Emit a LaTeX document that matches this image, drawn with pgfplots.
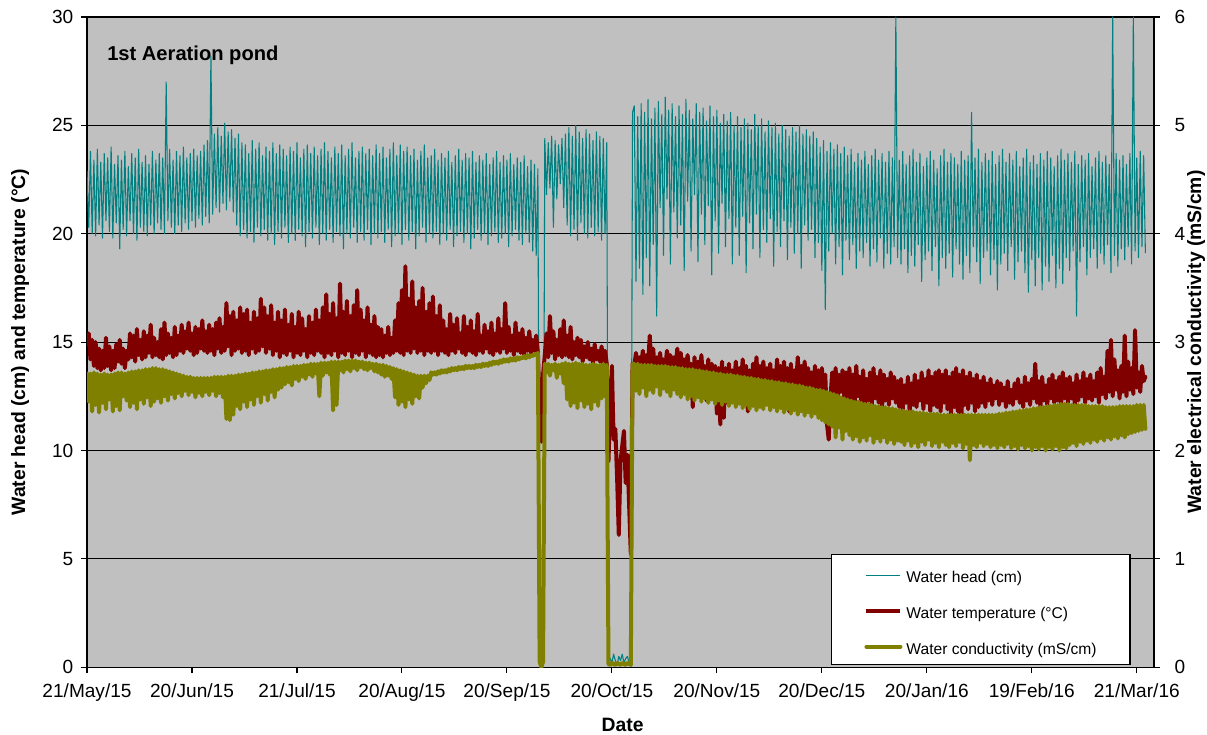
\documentclass[border=0pt]{standalone}
\usepackage{fontspec}
\setmainfont{Liberation Sans}
\usepackage{pgfplots}
\pgfplotsset{compat=1.18}
\usepackage{pgfplotstable}
\definecolor{headc}{HTML}{008080}
\definecolor{tempc}{HTML}{800000}
\definecolor{condc}{HTML}{808000}
\definecolor{bgc}{HTML}{C0C0C0}
\newcommand{\tkf}{\fontsize{14.3}{17}\selectfont}
\newcommand{\lgf}{\fontsize{11.7}{14}\selectfont}
\newcommand{\lbf}{\bfseries\fontsize{14.5}{17}\selectfont}
\newcommand{\ttf}{\bfseries\fontsize{15.1}{18}\selectfont}

\pgfplotstableread{
d h t c
0 22.9 14.9 2.71
0.5 20.3 15.4 2.45
1 23.8 14.2 2.71
1.5 20.0 15.1 2.36
2 23.4 13.9 2.72
2.5 19.9 15.0 2.42
3 23.9 13.8 2.71
3.5 20.4 14.7 2.35
4 23.3 13.7 2.70
4.5 19.8 14.6 2.44
5 23.7 13.8 2.71
5.5 20.6 15.2 2.38
6 23.5 13.9 2.70
6.5 20.1 14.8 2.47
7 24.0 13.7 2.70
7.5 19.8 14.6 2.36
8 23.2 13.8 2.71
8.5 20.5 14.9 2.41
9 23.6 14.1 2.72
9.5 19.3 15.1 2.37
10 23.4 14.0 2.72
10.5 20.2 14.7 2.50
11 23.8 13.8 2.71
11.5 19.9 14.6 2.46
12 23.1 14.2 2.72
12.5 20.6 15.4 2.40
13 23.7 14.3 2.73
13.5 20.0 15.3 2.44
14 23.5 14.1 2.73
14.5 19.7 15.6 2.38
15 23.9 14.4 2.74
15.5 20.3 15.1 2.47
16 23.3 14.2 2.74
16.5 20.1 15.5 2.43
17 23.6 14.3 2.75
17.5 19.9 15.3 2.49
18 23.2 14.5 2.75
18.5 20.4 15.8 2.41
19 23.8 14.3 2.76
19.5 20.0 15.2 2.45
20 23.4 14.4 2.76
20.5 20.5 15.0 2.48
21 23.7 14.3 2.75
21.5 20.2 15.6 2.44
22 23.5 14.2 2.75
22.5 20.0 15.9 2.50
23 27.0 14.4 2.74
23.5 20.6 15.4 2.46
24 23.9 14.5 2.73
24.5 20.3 15.2 2.52
25 23.4 14.3 2.72
25.5 20.0 15.7 2.48
26 23.8 14.4 2.71
26.5 20.4 15.3 2.53
27 23.6 14.6 2.70
27.5 20.1 15.8 2.50
28 24.0 14.5 2.69
28.5 20.5 15.5 2.55
29 23.5 14.7 2.68
29.5 20.2 15.9 2.51
30 23.7 14.6 2.68
30.5 20.6 15.4 2.54
31 23.9 14.4 2.67
31.5 20.3 15.7 2.49
32 23.6 14.5 2.67
32.5 20.7 15.6 2.53
33 23.8 14.7 2.67
33.5 20.4 16.0 2.50
34 24.1 14.6 2.67
34.5 20.8 15.5 2.54
35 24.3 14.5 2.67
35.5 20.5 15.8 2.51
36 28.2 14.6 2.67
36.5 20.9 15.6 2.55
37 24.6 14.4 2.68
37.5 21.2 15.9 2.50
38 24.9 14.7 2.68
38.5 21.0 16.1 2.53
39 24.5 14.5 2.68
39.5 21.4 15.7 2.49
40 25.1 14.6 2.68
40.5 21.1 16.8 2.29
41 24.7 14.8 2.69
41.5 21.5 16.2 2.28
42 24.8 14.4 2.69
42.5 21.0 16.4 2.33
43 24.4 14.6 2.69
43.5 20.4 16.0 2.41
44 24.6 14.7 2.70
44.5 19.9 16.6 2.38
45 24.2 14.5 2.70
45.5 20.2 16.3 2.45
46 24.1 14.6 2.71
46.5 19.8 16.5 2.40
47 23.7 14.4 2.71
47.5 20.1 15.9 2.47
48 24.3 14.7 2.72
48.5 19.6 16.4 2.42
49 23.9 14.5 2.72
49.5 20.3 16.1 2.50
50 24.2 14.6 2.73
50.5 19.9 17.0 2.44
51 23.6 14.8 2.73
51.5 20.2 16.6 2.52
52 24.0 14.5 2.74
52.5 19.7 16.2 2.46
53 23.8 14.7 2.74
53.5 20.0 16.7 2.54
54 24.2 14.4 2.75
54.5 19.5 15.9 2.49
55 23.7 14.6 2.75
55.5 20.1 16.4 2.56
56 24.1 14.3 2.76
56.5 19.8 16.0 2.58
57 23.9 14.5 2.76
57.5 20.3 16.5 2.61
58 23.6 14.4 2.77
58.5 19.6 15.8 2.63
59 24.0 14.6 2.77
59.5 20.0 16.3 2.60
60 23.8 14.3 2.78
60.5 19.7 15.7 2.66
61 24.2 14.5 2.78
61.5 20.2 16.4 2.64
62 23.5 14.4 2.78
62.5 19.9 16.1 2.68
63 23.9 14.6 2.79
63.5 19.4 15.6 2.66
64 24.1 14.3 2.79
64.5 20.1 16.2 2.70
65 23.7 14.5 2.80
65.5 19.8 15.9 2.68
66 24.0 14.4 2.80
66.5 20.3 16.5 2.71
67 23.6 14.6 2.80
67.5 19.5 16.0 2.50
68 23.9 14.5 2.81
68.5 20.0 16.6 2.69
69 24.2 14.3 2.81
69.5 19.7 17.2 2.72
70 23.8 14.5 2.81
70.5 20.2 16.3 2.70
71 23.5 14.4 2.82
71.5 19.6 16.8 2.37
72 24.0 14.6 2.82
72.5 20.1 16.1 2.42
73 23.7 14.3 2.82
73.5 19.9 17.7 2.74
74 24.1 14.5 2.82
74.5 19.3 16.4 2.72
75 23.6 14.4 2.83
75.5 20.0 16.9 2.75
76 23.9 14.6 2.83
76.5 19.8 16.2 2.73
77 24.2 14.3 2.83
77.5 20.3 16.7 2.76
78 23.5 14.5 2.83
78.5 19.6 17.4 2.74
79 23.8 14.4 2.82
79.5 20.1 16.5 2.77
80 24.0 14.6 2.82
80.5 19.7 16.0 2.75
81 23.7 14.3 2.81
81.5 20.2 16.6 2.74
82 23.9 14.5 2.81
82.5 19.5 15.8 2.76
83 23.6 14.4 2.80
83.5 20.0 16.2 2.73
84 24.1 14.3 2.80
84.5 19.8 15.7 2.72
85 23.7 14.4 2.79
85.5 20.1 15.6 2.70
86 24.0 14.3 2.79
86.5 19.6 15.3 2.68
87 23.5 14.5 2.78
87.5 20.2 15.7 2.69
88 23.9 14.4 2.77
88.5 19.4 15.2 2.66
89 24.2 14.5 2.76
89.5 19.9 16.0 2.49
90 23.6 14.6 2.75
90.5 20.0 16.8 2.42
91 24.1 14.5 2.74
91.5 19.5 17.4 2.45
92 23.8 14.4 2.73
92.5 20.2 18.5 2.40
93 24.0 14.6 2.72
93.5 19.7 17.0 2.47
94 23.6 14.5 2.71
94.5 20.1 17.8 2.43
95 23.9 14.7 2.70
95.5 19.3 16.6 2.50
96 23.4 14.5 2.69
96.5 19.9 16.9 2.48
97 23.8 14.6 2.69
97.5 20.3 17.5 2.58
98 24.1 14.4 2.69
98.5 19.6 16.4 2.62
99 23.5 14.6 2.69
99.5 20.0 16.8 2.65
100 23.6 14.5 2.72
100.5 19.8 17.1 2.70
101 23.9 14.6 2.72
101.5 20.1 16.2 2.70
102 23.4 14.4 2.73
102.5 19.5 16.7 2.71
103 23.7 14.6 2.74
103.5 20.0 16.0 2.72
104 23.5 14.5 2.74
104.5 19.7 15.6 2.72
105 23.8 14.4 2.75
105.5 20.2 16.3 2.73
106 23.3 14.6 2.76
106.5 19.4 15.8 2.74
107 23.6 14.5 2.76
107.5 19.9 16.1 2.74
108 23.9 14.7 2.77
108.5 20.1 15.4 2.75
109 23.4 14.5 2.77
109.5 19.6 16.2 2.75
110 23.7 14.4 2.78
110.5 20.0 15.7 2.76
111 23.5 14.6 2.78
111.5 19.3 16.0 2.76
112 23.8 14.5 2.78
112.5 19.8 15.5 2.76
113 23.3 14.4 2.79
113.5 20.2 16.3 2.77
114 23.6 14.6 2.79
114.5 19.7 15.3 2.77
115 23.4 14.5 2.80
115.5 20.0 15.8 2.78
116 23.7 14.7 2.80
116.5 19.5 15.5 2.78
117 23.2 14.5 2.81
117.5 19.9 15.9 2.79
118 23.5 14.4 2.82
118.5 20.1 15.4 2.80
119 23.8 14.6 2.82
119.5 19.6 16.1 2.80
120 23.3 14.5 2.83
120.5 19.8 15.6 2.81
121 23.6 14.7 2.84
121.5 20.0 16.8 2.82
122 23.4 14.5 2.84
122.5 19.4 15.7 2.82
123 23.7 14.6 2.85
123.5 19.9 15.3 2.83
124 23.2 14.4 2.85
124.5 20.2 15.9 2.83
125 23.5 14.6 2.86
125.5 19.7 15.4 2.84
126 23.3 14.5 2.86
126.5 19.5 15.6 2.85
127 23.6 14.4 2.87
127.5 20.0 15.2 2.85
128 23.1 14.6 2.88
128.5 19.6 15.5 2.86
129 23.4 14.5 2.88
129.5 19.2 15.1 2.87
130 23.2 14.6 2.89
130.5 19.0 15.3 2.88
131 23.0 14.5 2.90
131.5 0.2 12.0 0.05
132 0.1 10.4 0.00
132.5 0.3 13.5 0.05
133 24.4 14.4 2.80
133.5 21.8 15.4 2.72
134 24.2 14.3 2.80
134.5 22.1 16.2 2.69
135 24.5 14.5 2.79
135.5 20.3 15.5 2.74
136 24.3 14.2 2.80
136.5 21.6 15.1 2.67
137 24.1 14.4 2.79
137.5 22.3 15.6 2.71
138 24.4 14.3 2.80
138.5 21.2 16.0 2.62
139 24.6 14.4 2.81
139.5 20.4 15.3 2.47
140 24.9 14.3 2.80
140.5 19.9 15.7 2.41
141 24.5 14.2 2.80
141.5 20.2 15.0 2.44
142 25.0 14.4 2.81
142.5 19.7 15.2 2.39
143 24.7 14.3 2.80
143.5 20.5 15.1 2.46
144 24.4 14.1 2.80
144.5 20.0 14.8 2.40
145 24.8 14.3 2.79
145.5 19.8 15.0 2.43
146 24.6 14.2 2.79
146.5 20.3 14.7 2.38
147 24.3 14.0 2.80
147.5 19.9 14.9 2.45
148 24.7 14.2 2.79
148.5 20.1 14.6 2.41
149 24.5 14.1 2.79
149.5 19.7 14.8 2.48
150 24.4 14.0 2.80
150.5 20.0 14.6 2.50
151 24.2 14.0 2.79
151.5 0.2 9.5 0.03
152 0.4 12.0 0.02
152.5 0.2 13.9 0.04
153 0.6 10.5 0.03
153.5 0.3 11.0 0.02
154 0.1 8.8 0.04
154.5 0.5 6.1 0.03
155 0.3 9.5 0.02
155.5 0.6 10.2 0.04
156 0.2 10.9 0.03
156.5 0.4 8.5 0.02
157 0.5 9.8 0.04
157.5 0.2 7.5 0.03
158 0.3 5.2 0.02
158.5 25.6 14.0 2.80
159 25.9 13.9 2.80
159.5 17.8 14.5 2.55
160 25.4 13.8 2.80
160.5 18.4 14.3 2.52
161 26.0 14.0 2.79
161.5 17.2 14.6 2.58
162 25.6 13.7 2.79
162.5 18.9 14.4 2.50
163 26.2 13.9 2.79
163.5 17.6 15.3 2.56
164 25.3 13.8 2.79
164.5 19.5 14.7 2.53
165 25.8 13.6 2.78
165.5 16.2 14.3 2.59
166 26.1 13.9 2.78
166.5 21.2 14.5 2.51
167 25.5 13.7 2.78
167.5 19.0 14.2 2.57
168 26.3 13.8 2.78
168.5 21.6 14.6 2.54
169 25.7 14.0 2.77
169.5 18.6 14.4 2.50
170 26.0 13.6 2.77
170.5 21.0 14.3 2.56
171 25.4 13.8 2.77
171.5 19.8 14.7 2.52
172 25.9 13.8 2.76
172.5 20.4 14.5 2.49
173 25.5 13.6 2.76
173.5 18.3 14.2 2.52
174 26.2 13.9 2.75
174.5 21.5 14.4 2.47
175 25.7 13.5 2.75
175.5 19.2 14.0 2.50
176 25.3 12.0 2.75
176.5 21.8 14.3 2.46
177 26.0 12.6 2.74
177.5 18.7 14.1 2.49
178 25.6 13.4 2.74
178.5 20.9 14.4 2.45
179 25.8 13.2 2.73
179.5 19.5 13.9 2.48
180 25.2 12.3 2.73
180.5 21.3 14.2 2.44
181 25.9 13.0 2.72
181.5 18.1 14.0 2.47
182 25.4 12.6 2.72
182.5 20.6 13.9 2.43
183 25.7 11.7 2.71
183.5 19.1 13.8 2.46
184 25.1 11.2 2.71
184.5 21.4 14.1 2.42
185 25.5 11.5 2.70
185.5 19.4 13.8 2.45
186 25.2 12.2 2.70
186.5 20.7 14.0 2.41
187 25.6 12.8 2.70
187.5 18.6 13.7 2.44
188 25.0 13.0 2.69
188.5 20.3 14.1 2.40
189 25.4 12.7 2.69
189.5 19.0 13.8 2.43
190 24.9 13.1 2.68
190.5 20.8 14.2 2.39
191 25.3 12.9 2.68
191.5 18.2 13.9 2.42
192 25.1 11.8 2.67
192.5 20.5 13.7 2.38
193 24.8 12.1 2.67
193.5 19.3 14.0 2.41
194 25.5 13.0 2.66
194.5 20.9 14.3 2.37
195 25.0 12.8 2.66
195.5 18.9 13.9 2.40
196 25.3 13.1 2.65
196.5 20.2 14.1 2.38
197 24.7 12.9 2.65
197.5 19.6 13.8 2.42
198 25.2 13.2 2.64
198.5 20.7 14.0 2.37
199 24.9 12.8 2.64
199.5 18.5 13.7 2.40
200 25.1 13.0 2.63
200.5 20.1 14.2 2.36
201 24.6 12.7 2.63
201.5 19.4 13.9 2.39
202 25.0 13.1 2.62
202.5 20.6 14.1 2.35
203 24.8 12.9 2.62
203.5 18.8 13.8 2.38
204 24.5 11.8 2.61
204.5 20.3 14.0 2.34
205 24.9 12.6 2.61
205.5 19.1 13.7 2.37
206 24.7 13.0 2.60
206.5 20.0 14.3 2.33
207 25.0 12.8 2.60
207.5 18.4 13.9 2.36
208 24.6 13.1 2.59
208.5 20.4 14.1 2.32
209 24.8 12.7 2.58
209.5 19.7 13.8 2.35
210 24.5 12.9 2.58
210.5 20.2 13.6 2.31
211 24.7 12.6 2.57
211.5 18.9 13.9 2.34
212 24.4 12.8 2.56
212.5 19.6 13.7 2.30
213 24.0 12.5 2.56
213.5 18.3 13.8 2.28
214 24.3 12.7 2.55
214.5 16.5 13.5 2.26
215 23.8 11.2 2.54
215.5 19.2 10.5 2.24
216 24.2 12.4 2.53
216.5 20.0 13.6 2.22
217 23.9 12.6 2.52
217.5 18.6 13.8 2.12
218 24.1 12.3 2.51
218.5 19.4 13.5 2.21
219 23.7 12.7 2.49
219.5 18.1 13.7 2.10
220 24.0 12.5 2.48
220.5 19.7 13.6 2.18
221 23.6 12.2 2.47
221.5 18.8 13.8 2.14
222 23.9 12.4 2.46
222.5 19.5 13.5 2.10
223 23.3 12.1 2.45
223.5 18.4 13.9 2.13
224 23.7 12.5 2.45
224.5 19.2 13.4 2.08
225 23.4 12.2 2.44
225.5 18.9 13.7 2.12
226 23.8 12.0 2.43
226.5 19.6 13.3 2.09
227 23.2 12.3 2.43
227.5 18.5 13.6 2.14
228 23.6 12.1 2.42
228.5 19.3 13.8 2.07
229 23.9 12.4 2.41
229.5 18.7 13.4 2.11
230 23.4 12.2 2.41
230.5 19.8 13.7 2.08
231 23.7 12.0 2.40
231.5 18.4 13.5 2.12
232 23.3 12.3 2.40
232.5 19.1 13.3 2.07
233 23.8 12.1 2.39
233.5 18.6 13.6 2.10
234 23.5 12.4 2.39
234.5 19.4 13.4 2.06
235 30.0 12.2 2.38
235.5 18.9 13.2 2.09
236 23.4 12.0 2.37
236.5 18.6 13.3 2.08
237 23.8 11.9 2.37
237.5 19.3 13.0 2.05
238 23.2 12.2 2.36
238.5 18.2 13.4 2.09
239 23.6 11.8 2.36
239.5 19.0 13.1 2.04
240 23.9 12.1 2.36
240.5 18.5 13.5 2.07
241 23.3 12.0 2.35
241.5 19.5 13.2 2.03
242 23.7 12.3 2.35
242.5 17.8 13.6 2.08
243 23.1 11.9 2.35
243.5 18.8 13.3 2.05
244 23.5 12.2 2.34
244.5 19.2 13.7 2.10
245 23.8 11.8 2.34
245.5 18.3 13.4 2.04
246 23.4 12.1 2.34
246.5 19.4 13.6 2.07
247 23.0 12.0 2.34
247.5 17.6 13.7 2.03
248 23.6 11.8 2.33
248.5 18.9 13.5 2.08
249 23.9 12.2 2.33
249.5 18.4 13.7 2.05
250 23.3 11.9 2.33
250.5 19.1 13.4 2.03
251 23.7 11.7 2.33
251.5 18.0 13.6 2.07
252 23.5 12.0 2.33
252.5 19.3 13.8 2.04
253 23.2 11.8 2.33
253.5 18.6 13.5 2.08
254 23.8 11.3 2.33
254.5 17.9 13.7 2.02
255 23.4 12.1 2.33
255.5 19.0 13.4 2.06
256 23.6 11.9 2.33
256.5 18.2 13.6 1.91
257 25.6 12.2 2.33
257.5 19.4 13.3 2.05
258 23.5 11.8 2.33
258.5 18.7 13.5 2.03
259 23.9 12.0 2.33
259.5 17.7 13.2 2.07
260 23.3 12.2 2.33
260.5 18.9 13.4 2.04
261 23.7 12.0 2.33
261.5 19.2 13.1 2.06
262 23.4 12.3 2.33
262.5 18.1 13.3 2.03
263 23.8 12.1 2.33
263.5 18.8 13.0 2.05
264 23.2 12.4 2.33
264.5 17.4 13.2 2.02
265 23.6 12.1 2.34
265.5 18.6 13.1 2.05
266 23.9 12.3 2.34
266.5 19.1 12.9 2.03
267 23.3 12.0 2.35
267.5 18.3 13.2 2.06
268 23.7 12.2 2.35
268.5 19.4 12.8 2.02
269 23.4 12.1 2.36
269.5 17.9 13.1 2.04
270 23.8 12.4 2.36
270.5 18.7 13.3 2.01
271 23.1 12.2 2.37
271.5 19.2 13.0 2.05
272 23.5 12.0 2.37
272.5 18.2 13.4 2.02
273 23.9 12.3 2.38
273.5 17.3 13.1 2.04
274 23.3 12.1 2.38
274.5 18.8 13.3 2.00
275 23.6 12.4 2.39
275.5 17.6 14.0 2.03
276 23.2 12.2 2.39
276.5 18.9 13.2 2.01
277 23.7 12.0 2.40
277.5 17.4 13.4 2.04
278 23.4 12.3 2.40
278.5 18.5 13.0 2.00
279 23.8 12.1 2.41
279.5 17.8 13.3 2.03
280 23.5 12.4 2.41
280.5 19.0 13.5 2.01
281 23.1 12.2 2.42
281.5 17.5 13.2 2.04
282 23.6 12.3 2.42
282.5 18.4 13.4 2.00
283 23.9 12.1 2.43
283.5 17.7 13.6 2.03
284 23.4 12.4 2.43
284.5 18.9 13.3 2.02
285 23.7 12.2 2.43
285.5 18.3 13.4 2.05
286 23.3 12.4 2.42
286.5 19.2 13.1 2.07
287 23.8 12.1 2.42
287.5 16.2 13.5 2.04
288 23.2 12.3 2.42
288.5 18.7 13.2 2.08
289 23.6 12.5 2.42
289.5 19.4 13.6 2.06
290 23.4 12.2 2.42
290.5 18.1 13.3 2.09
291 23.7 12.4 2.41
291.5 18.9 13.5 2.07
292 23.1 12.3 2.41
292.5 19.3 13.2 2.10
293 23.5 12.5 2.41
293.5 18.4 13.6 2.08
294 23.8 12.2 2.41
294.5 19.1 13.8 2.11
295 23.3 12.6 2.41
295.5 18.6 13.4 2.09
296 23.6 12.4 2.40
296.5 19.5 14.6 2.12
297 23.2 12.7 2.40
297.5 18.2 15.1 2.10
298 30.0 12.5 2.40
298.5 19.0 14.2 2.13
299 23.7 12.8 2.40
299.5 18.5 13.7 2.11
300 23.4 12.4 2.41
300.5 19.3 13.9 2.14
301 23.6 12.7 2.41
301.5 18.8 15.3 2.12
302 23.2 12.5 2.41
302.5 19.4 14.1 2.15
303 23.7 12.8 2.41
303.5 18.6 13.8 2.16
304 30.0 12.6 2.41
304.5 19.2 15.55 2.17
305 23.5 12.9 2.42
305.5 18.9 13.6 2.18
306 23.8 12.7 2.42
306.5 19.4 13.9 2.19
307 23.6 13.2 2.42
307.5 19.1 13.4 2.20
}\data

\begin{document}
\begin{tikzpicture}
\useasboundingbox (-65.25pt,-50.25pt) rectangle (839.75pt,500.25pt);
\begin{axis}[
  scale only axis, width=800pt, height=487.5pt,
  xmin=0, xmax=310, ymin=0, ymax=30,
  axis background/.style={fill=bgc},
  axis line style={black, line width=0.8pt},
  xtick={0,30.5,61,91.5,122,152.5,183,213.5,244,274.5,305},
  xticklabels={{\tkf 21/May/15},{\tkf 20/Jun/15},{\tkf 21/Jul/15},{\tkf 20/Aug/15},{\tkf 20/Sep/15},{\tkf 20/Oct/15},{\tkf 20/Nov/15},{\tkf 20/Dec/15},{\tkf 20/Jan/16},{\tkf 19/Feb/16},{\tkf 21/Mar/16}},
  ytick={0,5,10,15,20,25,30},
  yticklabels={{\tkf 0},{\tkf 5},{\tkf 10},{\tkf 15},{\tkf 20},{\tkf 25},{\tkf 30}},
  xtick pos=bottom, ytick pos=left,
  tick align=outside, major tick length=4.5pt,
  tick style={black, line width=0.8pt},
  ymajorgrids, grid style={black, line width=0.8pt},
  xticklabel style={yshift=-4pt},
  yticklabel shift=2.25pt,
  xlabel={\lbf Date}, ylabel={\lbf Water head (cm) and temperature (°C)},
  every axis x label/.style={at={(axis description cs:0.502,-0.089)}, anchor=center},
  every axis y label/.style={at={(axis description cs:-0.0628,0.5)}, rotate=90, anchor=center},
]
\addplot[headc, line width=0.8pt, line join=round] table[x=d,y=h]{\data};
\addplot[tempc, line width=3pt, line join=round, line cap=round] table[x=d,y=t]{\data};
\node[anchor=west, inner sep=0pt, font=\ttf] at (axis description cs:0.0187,0.9415) {1st Aeration pond};
\end{axis}
\begin{axis}[
  scale only axis, width=800pt, height=487.5pt,
  xmin=0, xmax=310, ymin=0, ymax=6,
  axis x line=none, axis y line*=right,
  axis line style={black, line width=0.8pt},
  ytick={0,1,2,3,4,5,6},
  yticklabels={{\tkf 0},{\tkf 1},{\tkf 2},{\tkf 3},{\tkf 4},{\tkf 5},{\tkf 6}},
  yticklabel shift=7.5pt,
  tick align=outside, major tick length=4.5pt,
  tick style={black, line width=0.8pt},
  ylabel={\lbf Water electrical conductivity (mS/cm)},
  every axis y label/.style={at={(axis description cs:1.0394,0.5)}, rotate=90, anchor=center},
  legend image code/.code={\pgfpathrectangle{\pgfpoint{0pt}{-1.5pt}}{\pgfpoint{25.5pt}{9pt}}\pgfusepath{}\draw[#1] (0pt,0pt) -- (25.5pt,0pt);},
  legend cell align=left,
  legend style={at={(axis description cs:0.978,0.003)}, anchor=south east,
    draw=black, fill=white, line width=0.8pt,
    font=\lgf,
    inner xsep=25pt, inner ysep=8pt, row sep=13.75pt, column sep=3pt,
    nodes={inner sep=0pt, text height=11pt, text depth=0pt}},
]
\addlegendimage{headc, line width=0.8pt}
\addlegendentry{Water head (cm)}
\addlegendimage{tempc, line width=3pt}
\addlegendentry{Water temperature (°C)}
\addplot[condc, line width=3pt, line join=round, line cap=round] table[x=d,y=c]{\data};
\addlegendentry{Water conductivity (mS/cm)}
\end{axis}
\end{tikzpicture}
\end{document}
